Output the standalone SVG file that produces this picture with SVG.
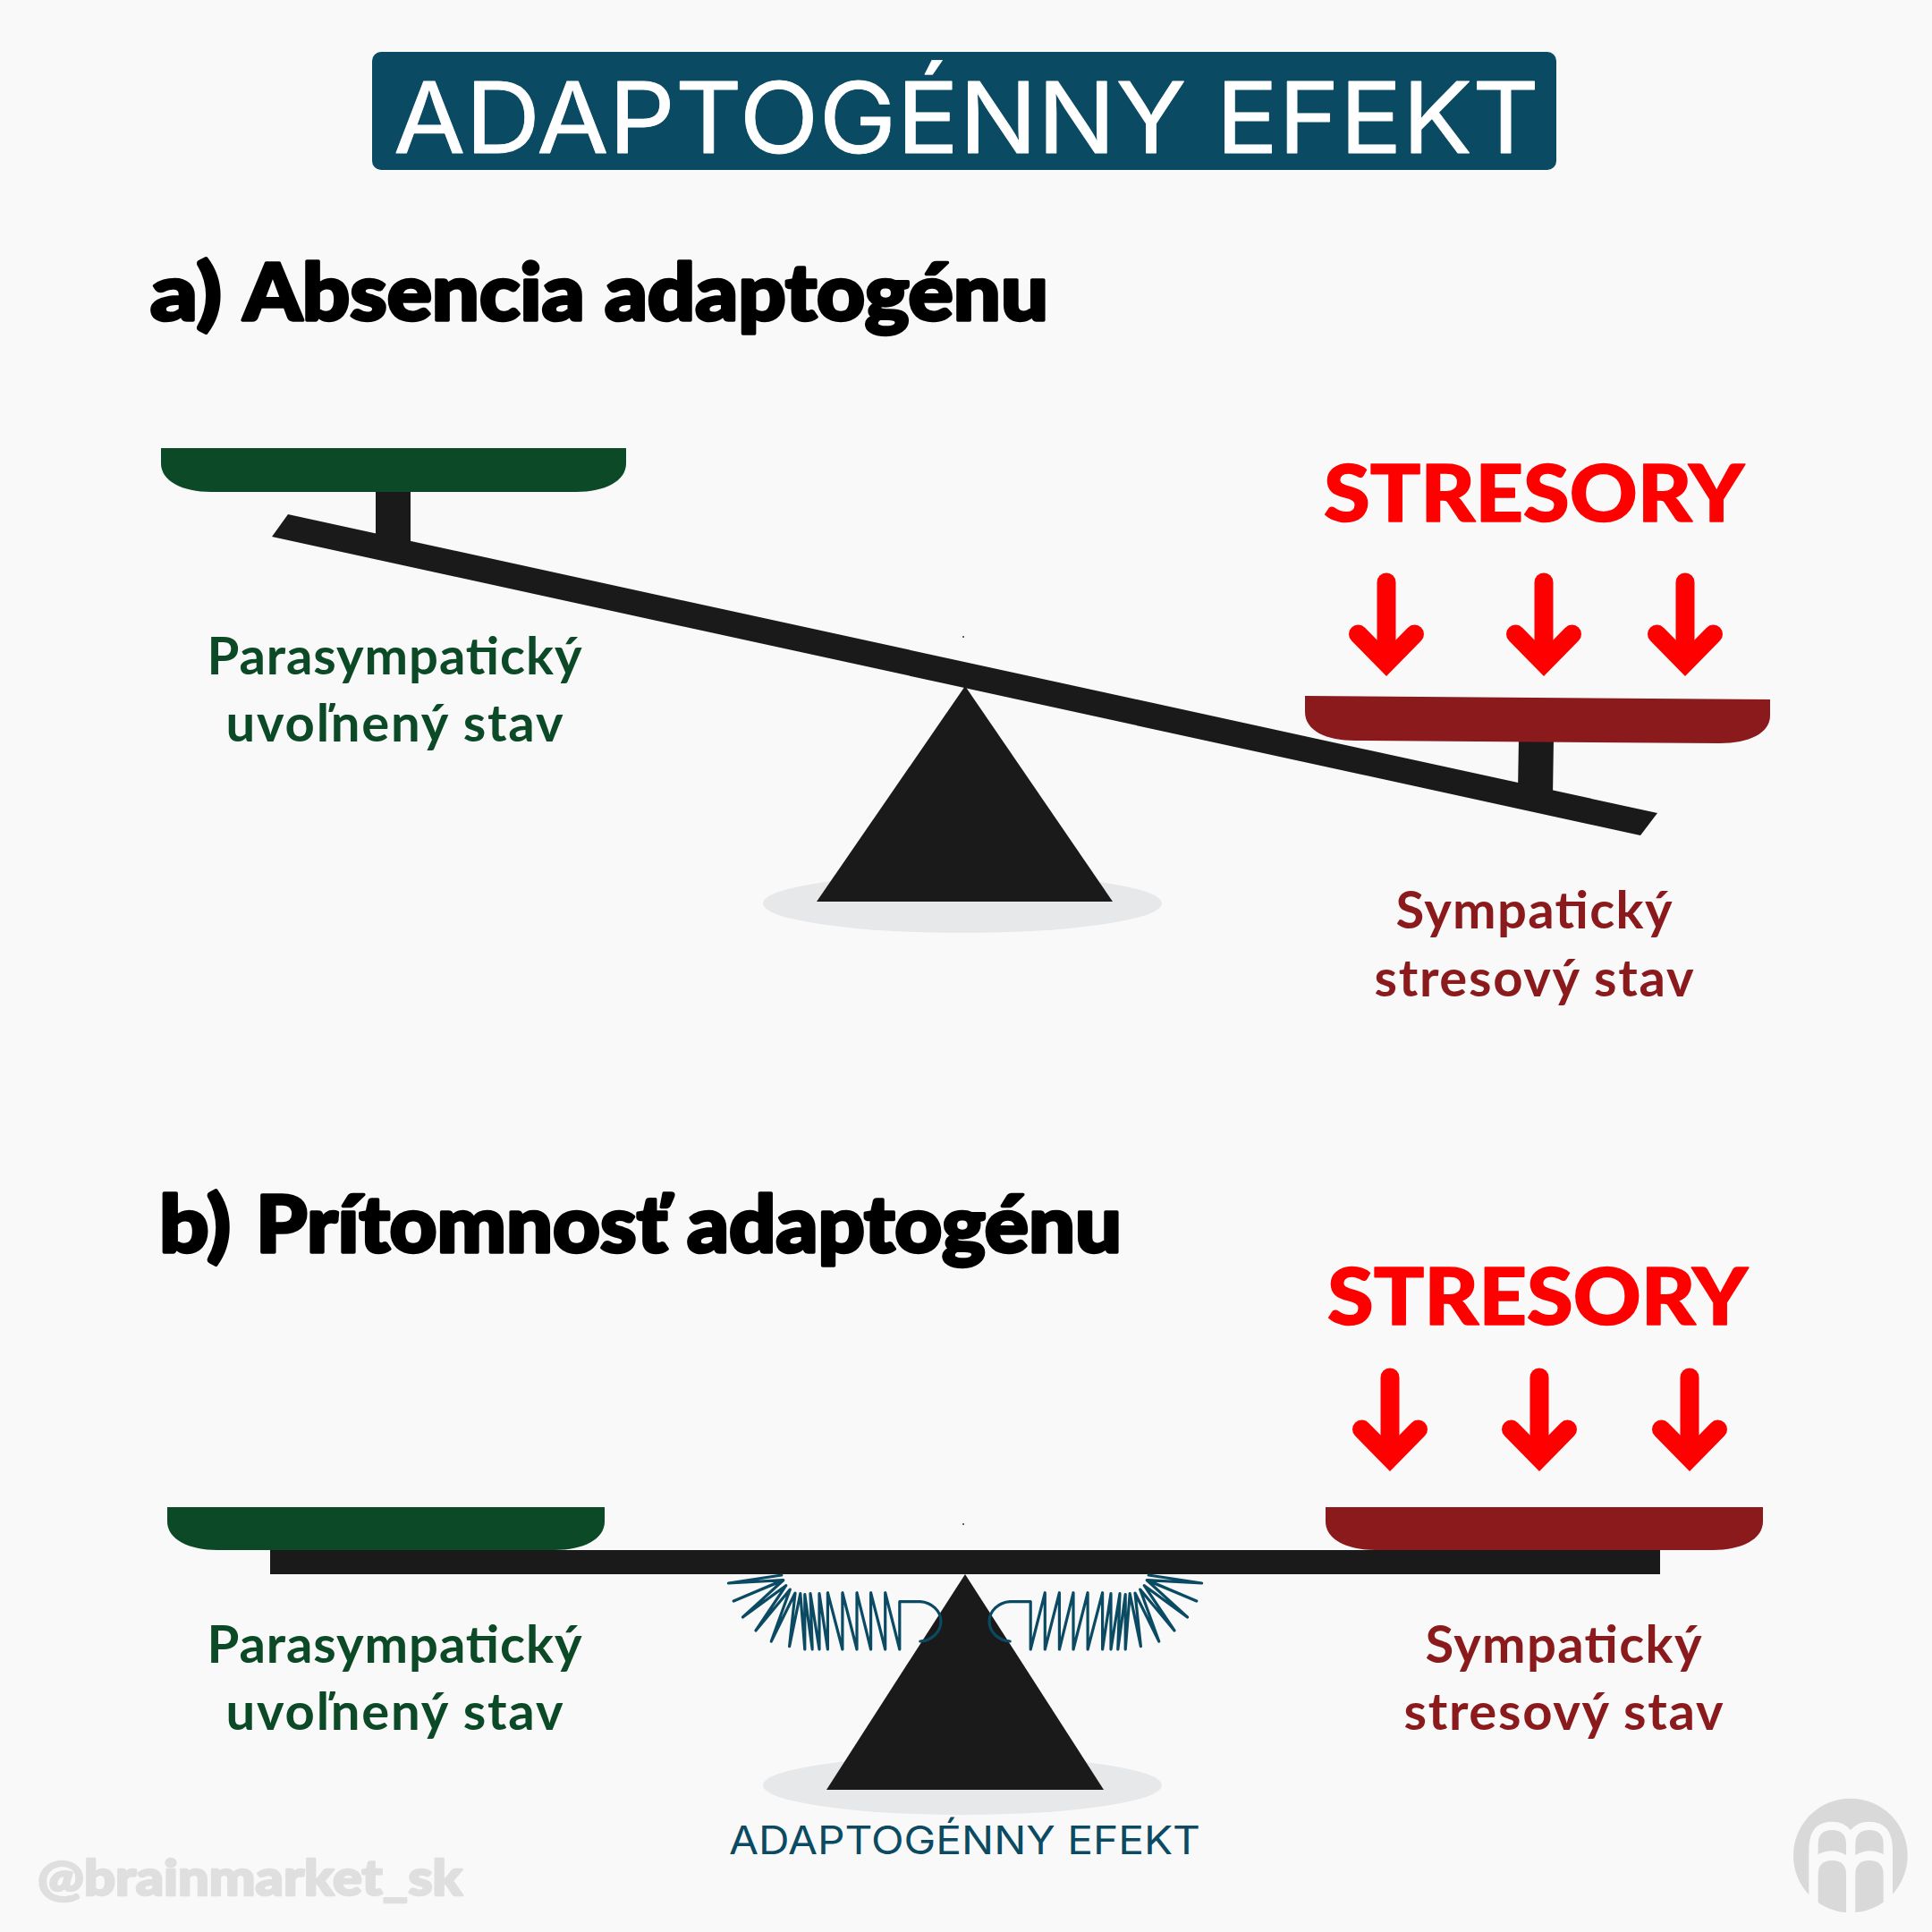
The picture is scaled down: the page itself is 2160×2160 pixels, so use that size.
<svg xmlns="http://www.w3.org/2000/svg" width="2160" height="2160" viewBox="0 0 2160 2160">
<style>
.beam{fill:#1a1a1a}
.shadow{fill:#e7e8ea}
.green{fill:#0c4a27}
.maroon{fill:#8a1a1c}
.head{font-family:"Lato","Liberation Sans",sans-serif;font-weight:900;font-size:88px;fill:#000;stroke:#000;stroke-width:3.5px;stroke-linejoin:round}
.lab{font-family:"Lato","Noto Sans",sans-serif;font-weight:700;font-size:58px;text-anchor:middle}
.lg{fill:#0c4a27}
.lm{fill:#8a1a1c}
.str{font-family:"Lato","Liberation Sans",sans-serif;font-weight:900;font-size:88px;fill:#ff0000;stroke:#ff0000;stroke-width:1.5px;stroke-linejoin:round}
.arrow{fill:none;stroke:#ff0000;stroke-width:21px;stroke-linecap:round;stroke-linejoin:miter;stroke-miterlimit:6}
.spring{fill:none;stroke:#0b4a63;stroke-width:3.2px;stroke-linejoin:round;stroke-linecap:round}
.logo{fill:#d9d9d9}
</style>
<defs>
<g id="arr"><path class="arrow" d="M0 11V95"/><path class="arrow" d="M-31.500 69L0 101L31.500 69"/></g>
<path id="coil" class="spring" d="M1028.8 1835A24.800 22.200 0 0 0 1028.800 1790.700H1005.800V1844L989.700 1780.700V1844L973.600 1780.700V1844L958 1780.700V1844L941.900 1780.700V1844L925.400 1780.700V1844L916 1781.700V1844L906 1781.700L908.200 1844L899.800 1782.700V1844L894.800 1781.700L882.600 1840.700L889 1781L862.300 1835L883.300 1777L845 1823L878.700 1772.700L830.500 1808L875.700 1766.700L820.200 1790L874.900 1766.700L814.400 1770L873.800 1761"/>
<clipPath id="lc"><circle cx="326.500" cy="283.500" r="191.500"/></clipPath>
</defs>
<rect width="2160" height="2160" fill="#f9f9f9"/>
<g id="title">
<rect x="416" y="58" width="1324" height="132" rx="10" fill="#0b4a63"/>
<text x="440" y="171" textLength="1281" lengthAdjust="spacingAndGlyphs" font-family="Inter,'Open Sans',sans-serif" font-size="110" fill="#ffffff" stroke="#ffffff" stroke-width="0.800" stroke-linejoin="round">ADAPTOGÉNNY EFEKT</text>
</g>
<g id="panel-a">
<text class="head" x="168" y="358" textLength="80" lengthAdjust="spacingAndGlyphs">a)</text>
<text class="head" x="272" y="358" textLength="900" lengthAdjust="spacingAndGlyphs">Absencia adaptogénu</text>
<ellipse class="shadow" cx="1076" cy="1010" rx="223" ry="33"/>
<rect class="beam" x="420" y="545" width="39" height="75"/>
<path class="beam" d="M1698 825H1737L1736 890L1697 885Z"/>
<path class="beam" d="M322 575L1853 909L1834 934L304 600Z"/>
<path class="beam" d="M1079 767L1244 1008H913Z"/>
<path class="green" d="M180 501H700V518C700 538 676 550 644 550H236C204 550 180 538 180 518Z"/>
<path class="maroon" d="M1459 778L1979 782V800C1979 820 1955 831 1923 831L1515 828C1483 828 1459 817 1459 796Z"/>
<circle cx="1077" cy="712" r="1" fill="#333"/>
<text class="lab lg" x="441" y="754" textLength="419">Parasympatický</text>
<text class="lab lg" x="441" y="829" textLength="377">uvoľnený stav</text>
<text class="lab lm" x="1715" y="1038" textLength="309">Sympatický</text>
<text class="lab lm" x="1715" y="1114" textLength="357">stresový stav</text>
<text class="str" x="1480" y="583" textLength="470" lengthAdjust="spacingAndGlyphs">STRESORY</text>
<use href="#arr" x="1550" y="640"/><use href="#arr" x="1726" y="640"/><use href="#arr" x="1884" y="640"/>
</g>
<g id="panel-b">
<text class="head" x="178" y="1400" textLength="80" lengthAdjust="spacingAndGlyphs">b)</text>
<text class="head" x="286" y="1400" textLength="968" lengthAdjust="spacingAndGlyphs">Prítomnosť adaptogénu</text>
<ellipse class="shadow" cx="1076" cy="1996" rx="223" ry="33"/>
<rect class="beam" x="302" y="1733" width="1554" height="27"/>
<path class="beam" d="M1079 1760L1234 2001H924Z"/>
<use href="#coil"/>
<use href="#coil" transform="translate(2158 0) scale(-1 1)"/>
<path class="green" d="M187 1685H676V1701C676 1721 652 1733 620 1733H243C211 1733 187 1721 187 1701Z"/>
<path class="maroon" d="M1482 1685H1971V1701C1971 1721 1947 1733 1915 1733H1538C1506 1733 1482 1721 1482 1701Z"/>
<circle cx="1077" cy="1704" r="1" fill="#333"/>
<text class="lab lg" x="441" y="1859" textLength="419">Parasympatický</text>
<text class="lab lg" x="441" y="1934" textLength="377">uvoľnený stav</text>
<text class="lab lm" x="1748" y="1859" textLength="309">Sympatický</text>
<text class="lab lm" x="1748" y="1934" textLength="357">stresový stav</text>
<text class="str" x="1484" y="1481" textLength="470" lengthAdjust="spacingAndGlyphs">STRESORY</text>
<use href="#arr" x="1554" y="1529"/><use href="#arr" x="1721" y="1529"/><use href="#arr" x="1889" y="1529"/>
<text x="815" y="2073" textLength="527" lengthAdjust="spacingAndGlyphs" font-family="Inter,'Open Sans',sans-serif" font-size="44" fill="#0b4a63">ADAPTOGÉNNY EFEKT</text>
</g>
<g id="watermark">
<text x="42" y="2119" textLength="475" lengthAdjust="spacingAndGlyphs" font-family="Lato,'Liberation Sans',sans-serif" font-weight="900" font-size="56" fill="#dfdfdf" stroke="#dfdfdf" stroke-width="2.500" stroke-linejoin="round">@brainmarket_sk</text>
</g>
<g id="logo" transform="translate(1960 1980) scale(0.33333)">
<circle class="logo" cx="326.500" cy="283.500" r="191.500"/>
<path fill="#f9f9f9" d="M187 490V265Q187 170 265 170Q305 170 327 198Q350 170 390 170Q468 170 468 265V490Z"/>
<g clip-path="url(#lc)">
<path class="logo" d="M218 280V245Q218 198 265 198Q312 198 312 245V282Q265 255 218 280Z"/>
<path class="logo" d="M218 490V347Q218 300 265 300Q312 300 312 347V490Z"/>
<path class="logo" d="M343 282V245Q343 198 390 198Q437 198 437 245V280Q390 255 343 282Z"/>
<path class="logo" d="M343 490V347Q343 300 390 300Q437 300 437 347V490Z"/>
</g>
</g>
</svg>
